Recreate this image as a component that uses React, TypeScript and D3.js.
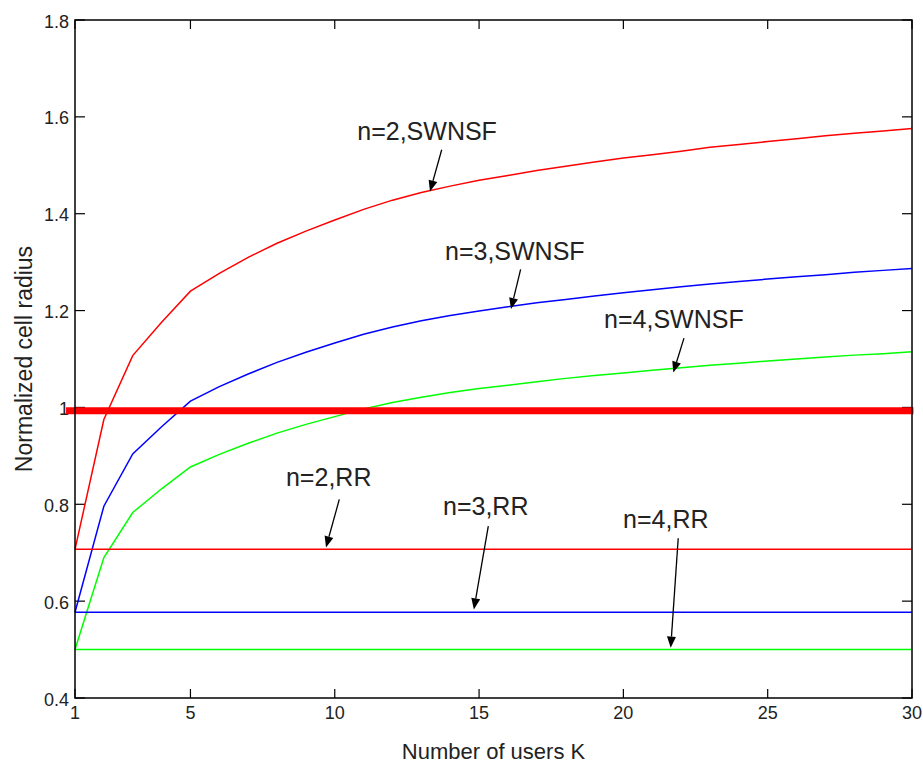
import React from 'react';
import * as d3 from 'd3';

const usersK = [1, 2, 3, 4, 5, 6, 7, 8, 9, 10, 11, 12, 13, 14, 15, 16, 17, 18, 19, 20, 21, 22, 23, 24, 25, 26, 27, 28, 29, 30];
const swnsfN2 = [0.707, 0.975, 1.107, 1.176, 1.240, 1.277, 1.310, 1.339, 1.364, 1.387, 1.409, 1.428, 1.444, 1.457, 1.469, 1.479, 1.489, 1.498, 1.507, 1.515, 1.522, 1.529, 1.537, 1.543, 1.549, 1.555, 1.561, 1.566, 1.571, 1.576];
const swnsfN3 = [0.577, 0.796, 0.904, 0.960, 1.013, 1.043, 1.069, 1.093, 1.114, 1.133, 1.151, 1.166, 1.179, 1.190, 1.199, 1.208, 1.216, 1.223, 1.230, 1.237, 1.243, 1.249, 1.255, 1.260, 1.265, 1.270, 1.274, 1.279, 1.283, 1.287];
const swnsfN4 = [0.500, 0.690, 0.783, 0.832, 0.877, 0.903, 0.926, 0.947, 0.965, 0.981, 0.997, 1.010, 1.021, 1.031, 1.039, 1.046, 1.053, 1.060, 1.066, 1.071, 1.077, 1.082, 1.087, 1.091, 1.096, 1.100, 1.104, 1.108, 1.111, 1.115];
const rrN2 = 0.707;
const rrN3 = 0.577;
const rrN4 = 0.5;
const threshold = 0.993;
const thresholdK = [0.69, 30.05];

const xTicks = [1, 5, 10, 15, 20, 25, 30];
const yTicks = [0.4, 0.6, 0.8, 1.0, 1.2, 1.4, 1.6, 1.8];
const yTickLabels = ['0.4', '0.6', '0.8', '1', '1.2', '1.4', '1.6', '1.8'];

const annLabels = ['n=2,SWNSF', 'n=3,SWNSF', 'n=4,SWNSF', 'n=2,RR', 'n=3,RR', 'n=4,RR'];
const annTextPos = [[10.78, 1.552], [13.82, 1.304], [19.33, 1.164], [8.31, 0.838], [13.75, 0.778], [19.99, 0.751]];
const annArrowFrom = [[13.705, 1.532], [16.44, 1.285], [22.10, 1.143], [10.157, 0.810], [15.32, 0.755], [21.90, 0.730]];
const annArrowTo = [[13.30, 1.446], [16.106, 1.203], [21.73, 1.072], [9.697, 0.711], [14.82, 0.583], [21.64, 0.504]];

const FONT = '"Liberation Sans", Arial, Helvetica, sans-serif';

export default function App() {
  const W = 923, H = 763;
  const left = 75, right = 912, top = 20, bottom = 698;
  const x = d3.scaleLinear().domain([1, 30]).range([left, right]);
  const y = d3.scaleLinear().domain([0.4, 1.8]).range([bottom, top]);

  const line = d3.line<[number, number]>().x(d => x(d[0])).y(d => y(d[1]));
  const curve = (vals: number[]) => line(usersK.map((k, i) => [k, vals[i]] as [number, number])) || '';
  const flat = (v: number) => line([[usersK[0], v], [usersK[usersK.length - 1], v]]) || '';

  const series = [
    { d: curve(swnsfN2), c: '#ff0000' },
    { d: curve(swnsfN3), c: '#0000ff' },
    { d: curve(swnsfN4), c: '#00ff00' },
    { d: flat(rrN2), c: '#ff0000' },
    { d: flat(rrN3), c: '#0000ff' },
    { d: flat(rrN4), c: '#00ff00' },
  ];

  const arrows = annArrowFrom.map((f, i) => {
    const x1 = x(f[0]), y1 = y(f[1]);
    const x2 = x(annArrowTo[i][0]), y2 = y(annArrowTo[i][1]);
    const dx = x2 - x1, dy = y2 - y1;
    const len = Math.sqrt(dx * dx + dy * dy);
    const ux = dx / len, uy = dy / len;
    const hl = 11, hw = 4.5;
    const bx = x2 - ux * hl, by = y2 - uy * hl;
    const pts = `${x2},${y2} ${bx - uy * hw},${by + ux * hw} ${bx + uy * hw},${by - ux * hw}`;
    return { x1, y1, bx, by, pts };
  });

  return (
    <svg width={W} height={H} style={{ position: 'absolute', left: 0, top: 0, background: '#fff' }} fontFamily={FONT}>
      <rect x={0} y={0} width={W} height={H} fill="#fff" />
      {yTicks.map((t, i) => (
        <text key={'yl' + i} x={left - 6} y={y(t) + 1.5} textAnchor="end" dominantBaseline="central" fontSize={18} fill="#222">{yTickLabels[i]}</text>
      ))}
      {xTicks.map((t, i) => (
        <text key={'xl' + i} x={x(t)} y={bottom + 21} textAnchor="middle" fontSize={18} fill="#222">{t}</text>
      ))}
      {xTicks.map((t, i) => (
        <g key={'xt' + i} stroke="#000" strokeWidth={1.2}>
          <line x1={x(t)} x2={x(t)} y1={bottom} y2={bottom - 9} />
          <line x1={x(t)} x2={x(t)} y1={top} y2={top + 9} />
        </g>
      ))}
      {yTicks.map((t, i) => (
        <g key={'yt' + i} stroke="#000" strokeWidth={1.2}>
          <line x1={left} x2={left + 10} y1={y(t)} y2={y(t)} />
          <line x1={right} x2={right - 10} y1={y(t)} y2={y(t)} />
        </g>
      ))}
      {series.map((s, i) => (
        <path key={'s' + i} d={s.d} fill="none" stroke={s.c} strokeWidth={1.5} />
      ))}
      <line x1={x(thresholdK[0])} x2={x(thresholdK[1])} y1={y(threshold)} y2={y(threshold)} stroke="#ff0000" strokeWidth={7} />
      <rect x={left} y={top} width={right - left} height={bottom - top} fill="none" stroke="#000" strokeWidth={1.5} />
      {annLabels.map((lab, i) => (
        <text key={'a' + i} x={x(annTextPos[i][0])} y={y(annTextPos[i][1])} fontSize={25} fill="#222">{lab}</text>
      ))}
      {arrows.map((a, i) => (
        <g key={'ar' + i}>
          <line x1={a.x1} y1={a.y1} x2={a.bx} y2={a.by} stroke="#000" strokeWidth={1.3} />
          <polygon points={a.pts} fill="#000" />
        </g>
      ))}
      <text x={(left + right) / 2} y={759} textAnchor="middle" fontSize={22} fill="#222">Number of users K</text>
      <text transform={`translate(32, ${(top + bottom) / 2}) rotate(-90)`} textAnchor="middle" fontSize={23} fill="#222">Normalized cell radius</text>
    </svg>
  );
}
